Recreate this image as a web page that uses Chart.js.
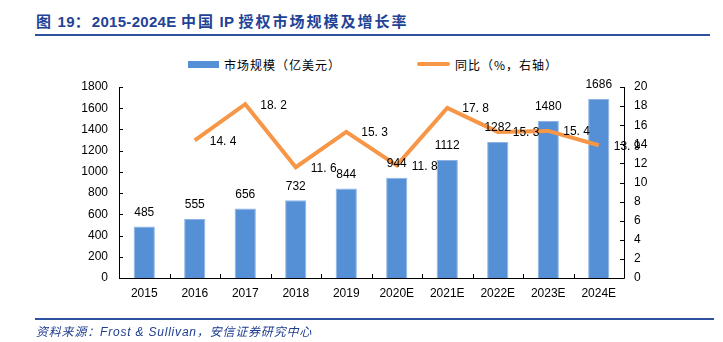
<!DOCTYPE html>
<html>
<head>
<meta charset="utf-8">
<script src="https://cdn.jsdelivr.net/npm/chart.js@4/dist/chart.umd.min.js"></script>
<style>
  html, body { margin: 0; padding: 0; background: #fff; }
  #wrap { position: relative; width: 723px; height: 342px; overflow: hidden; }
  #chart { position: absolute; left: 0; top: 0; }
  .title {
    position: absolute; left: 36px; top: 10px;
    font: bold 15px "Liberation Sans", "Noto Sans CJK SC", sans-serif;
    color: #1f4396; white-space: nowrap; letter-spacing: 0.3px;
  }
  .title .cn { font-family: "Noto Sans CJK SC", sans-serif; letter-spacing: 2px; }
  .rule { position: absolute; left: 35px; height: 2px; background: #2f4f9f; }
  .legend { position: absolute; top: 56px; font: 12px "Noto Sans CJK SC", sans-serif; color: #000; white-space: nowrap; letter-spacing: 1px; }
  .swatch { position: absolute; }
  .source {
    position: absolute; left: 36px; top: 322px;
    font: italic 12px "Liberation Sans", "Noto Sans CJK SC", sans-serif;
    color: #1f3d8f; white-space: nowrap; letter-spacing: 0.8px;
  }
</style>
</head>
<body>
<div id="wrap">
  <div class="title"><span class="cn">图</span> 19<span class="cn">：</span>2015-2024E <span class="cn">中国</span> IP <span class="cn">授权市场规模及增长率</span></div>
  <div class="rule" style="top:34px;width:675px;"></div>

  <div class="swatch" style="left:188px;top:61px;width:31px;height:7px;background:#5590d6;"></div>
  <div class="legend" style="left:224px;">市场规模（亿美元）</div>
  <div class="swatch" style="left:417px;top:62px;width:33px;height:4px;border-radius:2px;background:#f79646;"></div>
  <div class="legend" style="left:455px;">同比（%，右轴）</div>

  <canvas id="chart" width="723" height="342"></canvas>

  <div class="rule" style="top:318px;width:679px;height:1.5px;"></div>
  <div class="source">资料来源：Frost &amp; Sullivan，安信证券研究中心</div>
</div>

<script>
const years = ["2015", "2016", "2017", "2018", "2019", "2020E", "2021E", "2022E", "2023E", "2024E"];
const marketSize = [485, 555, 656, 732, 844, 944, 1112, 1282, 1480, 1686];   // 亿美元
const yoyGrowth = [null, 14.4, 18.2, 11.6, 15.3, 11.8, 17.8, 15.3, 15.4, 13.9]; // %
const sizeTicks = [0, 200, 400, 600, 800, 1000, 1200, 1400, 1600, 1800];
const growthTicks = [0, 2, 4, 6, 8, 10, 12, 14, 16, 18, 20];

const barColor = "#5590d6";
const lineColor = "#f79646";

// value labels: bars get theirs on top, the growth line to the right of each point
const valueLabels = {
  id: "valueLabels",
  afterDatasetsDraw(chart) {
    const ctx = chart.ctx;
    ctx.save();
    ctx.fillStyle = "#000";
    ctx.font = '12px "Liberation Sans", Arial, sans-serif';

    const bars = chart.getDatasetMeta(0).data;
    ctx.textAlign = "center";
    ctx.textBaseline = "middle";
    bars.forEach((el, i) => {
      ctx.fillText(String(marketSize[i]), el.x, el.y - 14);
    });

    const pts = chart.getDatasetMeta(1).data;
    ctx.textAlign = "left";
    pts.forEach((el, i) => {
      const v = yoyGrowth[i];
      if (v === null) return;
      const txt = v.toFixed(1).replace(".", ". ");
      ctx.fillText(txt, el.x + 15, el.y + 1);
    });
    ctx.restore();
  }
};

// axis lines with short inward tick marks
const axisFrame = {
  id: "axisFrame",
  afterDraw(chart) {
    const { ctx, chartArea: a, scales } = chart;
    ctx.save();
    ctx.strokeStyle = "#000";
    ctx.lineWidth = 1;
    ctx.beginPath();
    ctx.moveTo(a.left + 0.5, a.top);
    ctx.lineTo(a.left + 0.5, a.bottom + 0.5);
    ctx.lineTo(a.right + 0.5, a.bottom + 0.5);
    ctx.lineTo(a.right + 0.5, a.top);
    scales.y.ticks.forEach(t => {
      const y = Math.round(scales.y.getPixelForValue(t.value)) + 0.5;
      ctx.moveTo(a.left, y); ctx.lineTo(a.left + 4, y);
    });
    scales.y1.ticks.forEach(t => {
      const y = Math.round(scales.y1.getPixelForValue(t.value)) + 0.5;
      ctx.moveTo(a.right, y); ctx.lineTo(a.right - 4, y);
    });
    const step = (a.right - a.left) / years.length;
    for (let i = 1; i < years.length; i++) {
      const x = Math.round(a.left + step * i) + 0.5;
      ctx.moveTo(x, a.bottom); ctx.lineTo(x, a.bottom - 4);
    }
    ctx.stroke();
    ctx.restore();
  }
};

const tickFont = { family: '"Liberation Sans", Arial, sans-serif', size: 12 };

new Chart(document.getElementById("chart").getContext("2d"), {
  data: {
    labels: years,
    datasets: [
      {
        type: "bar",
        label: "市场规模（亿美元）",
        data: marketSize,
        backgroundColor: barColor,
        borderColor: "#8fb4e4",
        borderWidth: 1,
        barPercentage: 0.42,
        categoryPercentage: 1,
        yAxisID: "y",
        order: 2
      },
      {
        type: "line",
        label: "同比（%，右轴）",
        data: yoyGrowth,
        borderColor: lineColor,
        borderWidth: 4,
        pointRadius: 0,
        tension: 0,
        spanGaps: false,
        yAxisID: "y1",
        order: 1
      }
    ]
  },
  options: {
    responsive: false,
    animation: false,
    layout: { padding: { top: 87, left: 0, right: 0, bottom: 0 } },
    plugins: { legend: { display: false }, tooltip: { enabled: false } },
    scales: {
      x: {
        grid: { display: false, drawTicks: false },
        border: { display: false },
        ticks: { font: tickFont, color: "#000", padding: 8, maxRotation: 0 },
        afterFit(s) { s.height = 64; }
      },
      y: {
        position: "left",
        min: 0, max: 1800,
        afterBuildTicks(s) { s.ticks = sizeTicks.map(v => ({ value: v })); },
        grid: { display: false, drawTicks: false },
        border: { display: false },
        ticks: { font: tickFont, color: "#000", padding: 11, callback: v => String(v) },
        afterFit(s) { s.width = 119; }
      },
      y1: {
        position: "right",
        min: 0, max: 20,
        afterBuildTicks(s) { s.ticks = growthTicks.map(v => ({ value: v })); },
        grid: { display: false, drawTicks: false },
        border: { display: false },
        ticks: { font: tickFont, color: "#000", padding: 10, callback: v => String(v) },
        afterFit(s) { s.width = 99; }
      }
    }
  },
  plugins: [valueLabels, axisFrame]
});
</script>
</body>
</html>
